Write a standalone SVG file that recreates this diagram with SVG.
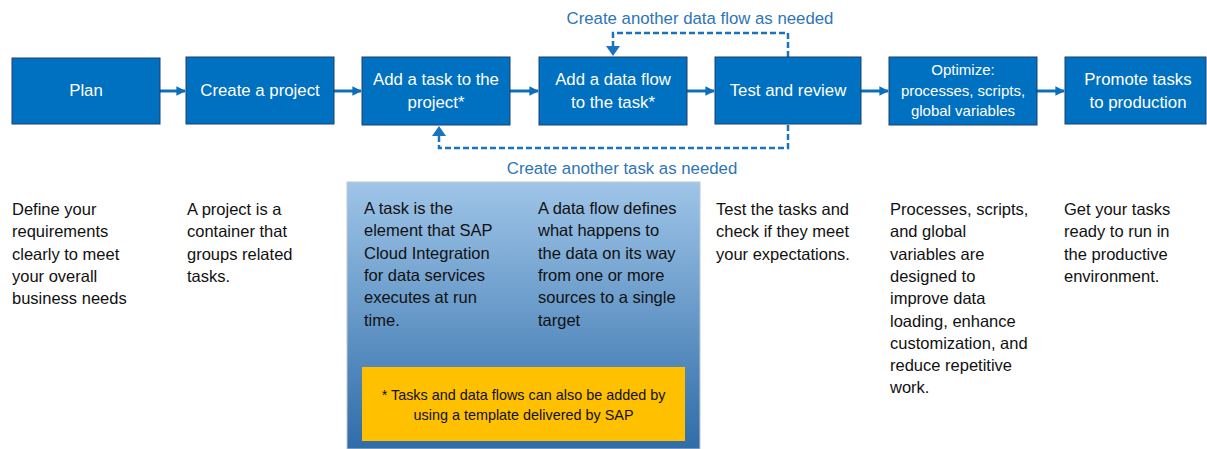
<svg xmlns="http://www.w3.org/2000/svg" width="1207" height="449" viewBox="0 0 1207 449">
<defs>
<linearGradient id="g" x1="0" y1="0" x2="0" y2="1">
<stop offset="0" stop-color="#9fc5e8"/>
<stop offset="1" stop-color="#2f6ca8"/>
</linearGradient>
<marker id="ah" viewBox="0 0 10 10" refX="9" refY="5" markerWidth="3.2" markerHeight="3.2" orient="auto" markerUnits="strokeWidth">
<path d="M0,0 L10,5 L0,10 z" fill="#0b6fbe"/>
</marker>
</defs>
<style>
.box{fill:#0070c0;stroke:#1f3f6b;stroke-width:1}
.bt{font-family:"Liberation Sans",Arial,sans-serif;font-size:16.8px;fill:#ffffff;text-anchor:middle}
.bs{font-family:"Liberation Sans",Arial,sans-serif;font-size:15px;fill:#ffffff;text-anchor:middle}
.d{font-family:"Liberation Sans",Arial,sans-serif;font-size:16.5px;fill:#111111}
.lbl{font-family:"Liberation Sans",Arial,sans-serif;font-size:16.8px;fill:#2e75b6;text-anchor:middle}
.note{font-family:"Liberation Sans",Arial,sans-serif;font-size:14.4px;fill:#111111;text-anchor:middle}
.arr{stroke:#0b6fbe;stroke-width:3;fill:none}
.dash{stroke:#1a73c0;stroke-width:2.5;fill:none;stroke-dasharray:6 3}
</style>
<rect width="1207" height="449" fill="#ffffff"/>

<g id="panel">
<rect x="347" y="182" width="353" height="267" fill="url(#g)" stroke="#c0c8d0" stroke-width="1"/>
<text class="d" x="364" y="214">A task is the</text>
<text class="d" x="364" y="236.3">element that SAP</text>
<text class="d" x="364" y="258.6">Cloud Integration</text>
<text class="d" x="364" y="280.9">for data services</text>
<text class="d" x="364" y="303.2">executes at run</text>
<text class="d" x="364" y="325.5">time.</text>
<text class="d" x="538" y="214">A data flow defines</text>
<text class="d" x="538" y="236.3">what happens to</text>
<text class="d" x="538" y="258.6">the data on its way</text>
<text class="d" x="538" y="280.9">from one or more</text>
<text class="d" x="538" y="303.2">sources to a single</text>
<text class="d" x="538" y="325.5">target</text>
</g>

<g id="note">
<rect x="362" y="367" width="323" height="74" fill="#ffc000"/>
<text class="note" x="523.5" y="400">* Tasks and data flows can also be added by</text>
<text class="note" x="523.5" y="420">using a template delivered by SAP</text>
</g>

<g id="connectors">
<line class="arr" x1="160" y1="91" x2="185" y2="91" marker-end="url(#ah)"/>
<line class="arr" x1="334" y1="91" x2="361" y2="91" marker-end="url(#ah)"/>
<line class="arr" x1="510" y1="91" x2="538" y2="91" marker-end="url(#ah)"/>
<line class="arr" x1="687" y1="91" x2="714" y2="91" marker-end="url(#ah)"/>
<line class="arr" x1="861" y1="91" x2="888" y2="91" marker-end="url(#ah)"/>
<line class="arr" x1="1037" y1="91" x2="1064" y2="91" marker-end="url(#ah)"/>
<polyline class="dash" points="788,57 788,33 613,33 613,46"/>
<path d="M606,46 L620,46 L613,56 z" fill="#1a73c0"/>
<polyline class="dash" points="788,125 788,148 439,148 439,136"/>
<path d="M432,136 L446,136 L439,126 z" fill="#1a73c0"/>
<text class="lbl" x="700" y="24">Create another data flow as needed</text>
<text class="lbl" x="622" y="174">Create another task as needed</text>
</g>

<g id="plan">
<rect class="box" x="12" y="58" width="148" height="66"/>
<text class="bt" x="86" y="96">Plan</text>
</g>
<g id="create-project">
<rect class="box" x="186" y="57" width="148" height="67"/>
<text class="bt" x="260" y="96">Create a project</text>
</g>
<g id="add-task">
<rect class="box" x="362" y="57" width="148" height="68"/>
<text class="bt" x="436" y="85">Add a task to the</text>
<text class="bt" x="436" y="108">project*</text>
</g>
<g id="add-data-flow">
<rect class="box" x="539" y="57" width="148" height="68"/>
<text class="bt" x="613" y="85">Add a data flow</text>
<text class="bt" x="613" y="108">to the task*</text>
</g>
<g id="test-review">
<rect class="box" x="715" y="57" width="146" height="67"/>
<text class="bt" x="788" y="96">Test and review</text>
</g>
<g id="optimize">
<rect class="box" x="889" y="57" width="148" height="68"/>
<text class="bs" x="963" y="75">Optimize:</text>
<text class="bs" x="963" y="96">processes, scripts,</text>
<text class="bs" x="963" y="116">global variables</text>
</g>
<g id="promote">
<rect class="box" x="1065" y="57" width="141" height="67"/>
<text class="bt" x="1138" y="85">Promote tasks</text>
<text class="bt" x="1138" y="108">to production</text>
</g>

<g id="descriptions">
<text class="d" x="12" y="215">Define your</text>
<text class="d" x="12" y="237.3">requirements</text>
<text class="d" x="12" y="259.6">clearly to meet</text>
<text class="d" x="12" y="281.9">your overall</text>
<text class="d" x="12" y="304.2">business needs</text>
<text class="d" x="187" y="215">A project is a</text>
<text class="d" x="187" y="237.3">container that</text>
<text class="d" x="187" y="259.6">groups related</text>
<text class="d" x="187" y="281.9">tasks.</text>
<text class="d" x="716" y="215">Test the tasks and</text>
<text class="d" x="716" y="237.3">check if they meet</text>
<text class="d" x="716" y="259.6">your expectations.</text>
<text class="d" x="890" y="215">Processes, scripts,</text>
<text class="d" x="890" y="237.3">and global</text>
<text class="d" x="890" y="259.6">variables are</text>
<text class="d" x="890" y="281.9">designed to</text>
<text class="d" x="890" y="304.2">improve data</text>
<text class="d" x="890" y="326.5">loading, enhance</text>
<text class="d" x="890" y="348.8">customization, and</text>
<text class="d" x="890" y="371.1">reduce repetitive</text>
<text class="d" x="890" y="393.4">work.</text>
<text class="d" x="1064" y="215">Get your tasks</text>
<text class="d" x="1064" y="237.3">ready to run in</text>
<text class="d" x="1064" y="259.6">the productive</text>
<text class="d" x="1064" y="281.9">environment.</text>
</g>
</svg>
